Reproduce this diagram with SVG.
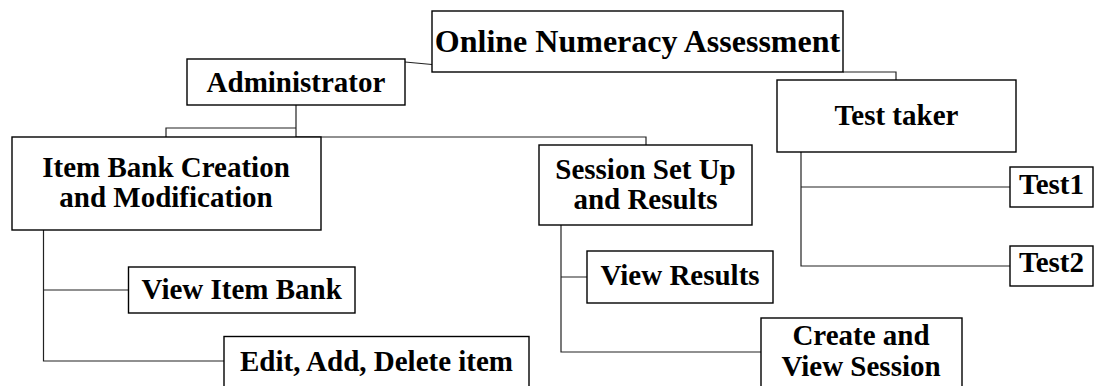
<svg xmlns="http://www.w3.org/2000/svg" width="1094" height="386" viewBox="0 0 1094 386">
<style>
.box{fill:#fff;stroke:#000;stroke-width:1.4}
.t{font-family:"Liberation Serif","Times New Roman",serif;font-weight:bold;font-size:29px;fill:#000;text-anchor:middle}
.c{fill:none;stroke:#222;stroke-width:1.2}
</style>
<rect width="1094" height="386" fill="#fff"/>
<g id="connectors">
<path class="c" d="M405,62 L432,64.5"/>
<path class="c" d="M843,72 L896,72 L896,80"/>
<path class="c" d="M296,105 L296,137 M296,128 L166,128 L166,137 M296,137 L646,137 L646,145"/>
<path class="c" d="M43.5,230 L43.5,361 L224,361 M43.5,290 L128.5,290"/>
<path class="c" d="M561,225 L561,352 L761,352 M561,277 L587,277"/>
<path class="c" d="M801,152 L801,266 L1010,266 M801,187 L1010,187"/>
</g>
<g id="online">
<rect class="box" x="432" y="11" width="411" height="61"/>
<text class="t" x="637.5" y="52" style="font-size:32px">Online Numeracy Assessment</text>
</g>
<g id="admin">
<rect class="box" x="187" y="59" width="218" height="46"/>
<text class="t" x="296" y="91.5">Administrator</text>
</g>
<g id="testtaker">
<rect class="box" x="777" y="80" width="239" height="72"/>
<text class="t" x="896.5" y="125">Test taker</text>
</g>
<g id="itembank">
<rect class="box" x="12" y="137" width="309" height="93"/>
<text class="t" x="166" y="177">Item Bank Creation</text>
<text class="t" x="166" y="207">and Modification</text>
</g>
<g id="session">
<rect class="box" x="539" y="145" width="213" height="80"/>
<text class="t" x="645.5" y="178.5">Session Set Up</text>
<text class="t" x="645.5" y="208.5">and Results</text>
</g>
<g id="test1">
<rect class="box" x="1010" y="167" width="83" height="40"/>
<text class="t" x="1051.5" y="193.5">Test1</text>
</g>
<g id="test2">
<rect class="box" x="1010" y="246" width="83" height="40"/>
<text class="t" x="1051.5" y="272">Test2</text>
</g>
<g id="viewitembank">
<rect class="box" x="128.5" y="267" width="226.5" height="46"/>
<text class="t" x="241.7" y="298.5">View Item Bank</text>
</g>
<g id="viewresults">
<rect class="box" x="587" y="251" width="186" height="52"/>
<text class="t" x="680" y="285">View Results</text>
</g>
<g id="edit">
<rect class="box" x="224" y="336.5" width="305" height="70"/>
<text class="t" x="376.5" y="371">Edit, Add, Delete item</text>
</g>
<g id="create">
<rect class="box" x="761" y="318" width="201" height="90"/>
<text class="t" x="861" y="345">Create and</text>
<text class="t" x="861" y="376">View Session</text>
</g>
</svg>
